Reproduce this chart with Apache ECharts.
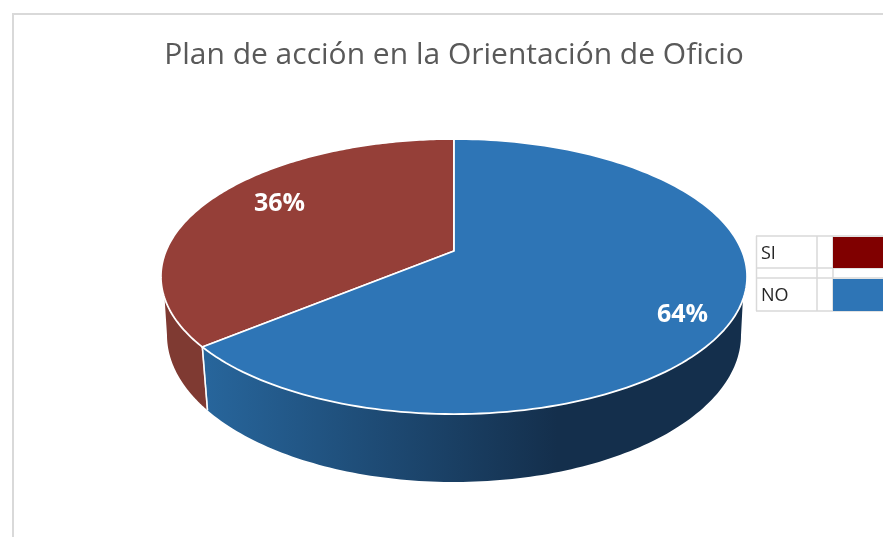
<!DOCTYPE html>
<html><head><meta charset="utf-8">
<style>html,body{margin:0;padding:0;background:#fff}#c{width:883px;height:537px}</style>
<script src="https://cdn.jsdelivr.net/npm/echarts@6/dist/echarts.min.js"></script>
</head><body><div id="c"></div>
<script>
const titleText = 'Plan de acción en la Orientación de Oficio';
const categories = ['SI', 'NO'];
const values = [36, 64];
const labels = ['36%', '64%'];

// Perspective projection of the pie disc onto the page
const CX = 454, CY = 251, RX = 288, RY = 132.8, K = 0.1855;
// Lower outline of the disc's wall
const LOW_CY = 335, LOW_RX = 287, LOW_RY = 147, WALL_START_Y = 298;
const topColors = ['#953f38', '#2e75b6'];
const legendColors = ['#800000', '#2e75b6'];
const labelAt = [[279.5, 204], [682.5, 315]];

function project(deg) {
  const a = deg * Math.PI / 180;
  const u = Math.sin(a), v = Math.cos(a), w = 1 + K * v;
  return [CX + RX * u / w, CY - RY * v / w];
}
function arc(from, to) {
  const pts = [], n = 160;
  for (let i = 0; i <= n; i++) pts.push(project(from + (to - from) * i / n));
  return pts;
}
function lowerArc(fromDeg, toDeg) {
  const pts = [], n = 120;
  for (let i = 0; i <= n; i++) {
    const a = (fromDeg + (toDeg - fromDeg) * i / n) * Math.PI / 180;
    pts.push([CX + LOW_RX * Math.cos(a), LOW_CY + LOW_RY * Math.sin(a)]);
  }
  return pts;
}
const total = values.reduce((a, b) => a + b, 0);
const sweepSI = 360 * values[0] / total;
// Where the slice boundary meets the lower outline: same ellipse parameter as on the top rim
const splitPoint = project(-sweepSI);
const splitDeg = 180 - Math.acos(Math.min(1, (CX - splitPoint[0]) / 293)) * 180 / Math.PI;

function wallFor(i) {
  if (i === 0) {
    const rim = arc(-sweepSI, -70).filter(p => p[1] >= WALL_START_Y);
    return rim.concat(lowerArc(180, splitDeg));
  }
  const rim = arc(360 - sweepSI, 70).filter(p => p[1] >= WALL_START_Y);
  return rim.concat(lowerArc(0, splitDeg));
}
function sideStyle(i) {
  if (i === 0) return { fill: '#7f3a32' };
  return { fill: new echarts.graphic.LinearGradient(208, 0, 745, 0, [
    { offset: 0, color: '#27659b' },
    { offset: 0.65, color: '#142f4c' },
    { offset: 1, color: '#142f4c' }
  ], true) };
}

function renderItem(params, api) {
  const i = params.dataIndex;
  const from = i === 0 ? -sweepSI : 0;
  const to = i === 0 ? 0 : 360 - sweepSI;
  const top = [[CX, CY]].concat(arc(from, to));
  const low = lowerArc(splitDeg, splitDeg)[0];
  return { type: 'group', children: [
    { type: 'polygon', z2: 1, shape: { points: wallFor(i) }, style: sideStyle(i) },
    { type: 'polyline', z2: 2, shape: { points: [splitPoint, low] },
      style: { stroke: '#fff', lineWidth: 1.5, opacity: 0.85, fill: null } },
    { type: 'polygon', z2: 3, shape: { points: top },
      style: { fill: topColors[i], stroke: '#fff', lineWidth: 1.8, lineJoin: 'round' } },
    { type: 'text', z2: 4, x: labelAt[i][0], y: labelAt[i][1],
      style: { text: labels[i], fill: '#fff', font: 'bold 25px "Open Sans"', align: 'center', verticalAlign: 'middle' } }
  ] };
}

function legendGraphic() {
  const line = '#d9d9d9', els = [];
  const rows = [[237, 268], [279, 311]];
  categories.forEach((c, i) => {
    els.push({ type: 'rect', z: 5, shape: { x: 833, y: rows[i][0], width: 52, height: rows[i][1] - rows[i][0] }, style: { fill: legendColors[i] } });
    els.push({ type: 'text', x: 761, y: (rows[i][0] + rows[i][1]) / 2 + 1, z: 6, style: { text: c, font: '18px "Open Sans"', fill: '#262626', verticalAlign: 'middle' } });
  });
  [[756.5, 236, 756.5, 311], [817, 236, 817, 311], [833, 236, 833, 311],
   [756, 236, 883, 236], [756, 268, 883, 268], [756, 278, 883, 278], [756, 311, 883, 311]]
    .forEach(l => els.push({ type: 'line', z: 4, shape: { x1: l[0], y1: l[1], x2: l[2], y2: l[3] }, style: { stroke: line, lineWidth: 1.5 } }));
  els.push({ type: 'line', z: 1, shape: { x1: 12, y1: 14, x2: 883, y2: 14 }, style: { stroke: line, lineWidth: 2 } });
  els.push({ type: 'line', z: 1, shape: { x1: 13, y1: 14, x2: 13, y2: 537 }, style: { stroke: line, lineWidth: 2 } });
  return els;
}

const chart = echarts.init(document.getElementById('c'), null, { renderer: 'canvas' });
chart.setOption({
  animation: false,
  backgroundColor: '#fff',
  title: { text: titleText, left: 449, top: 35, textAlign: 'center',
    textStyle: { fontFamily: 'Open Sans', fontSize: 30, fontWeight: 'normal', color: '#595959' } },
  graphic: legendGraphic(),
  series: [{ type: 'custom', coordinateSystem: 'none', renderItem,
    data: categories.map((c, i) => ({ name: c, value: values[i] })) }]
});
</script></body></html>
